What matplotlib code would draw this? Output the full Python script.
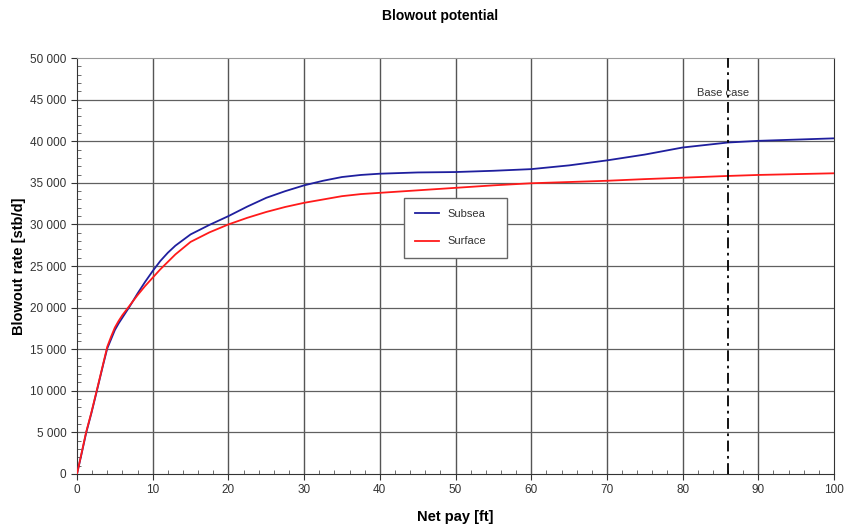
import numpy as np
import matplotlib
matplotlib.use("Agg")
import matplotlib.pyplot as plt
from matplotlib.ticker import MultipleLocator, FuncFormatter

plt.rcParams['font.family'] = ['Liberation Sans', 'DejaVu Sans']

# ========= data =========
net_pay = [0, 0.6, 1.2, 1.9, 2.6, 3.5, 4, 4.5, 5, 5.5, 6, 6.5, 7, 8, 9, 10,
           11, 12, 13, 15, 17.5, 20, 22.5, 25, 27.5, 30, 32.5, 35, 37.5, 40,
           45, 50, 55, 60, 65, 70, 75, 80, 86, 90, 100]
subsea = [0, 2400, 4900, 7300, 9900, 13300, 15100, 16200, 17300, 18100,
          18800, 19500, 20200, 21700, 23100, 24400, 25600, 26600, 27450,
          28800, 29950, 31000, 32150, 33200, 34000, 34700, 35250, 35700,
          35950, 36100, 36250, 36300, 36450, 36650, 37100, 37700, 38400,
          39250, 39850, 40050, 40350]
surface = [0, 2500, 5000, 7400, 10000, 13400, 15300, 16500, 17600, 18400,
           19100, 19700, 20300, 21500, 22600, 23600, 24600, 25500, 26400,
           27900, 29050, 30000, 30800, 31500, 32100, 32600, 33000, 33400,
           33650, 33800, 34100, 34400, 34700, 34950, 35100, 35250, 35450,
           35620, 35830, 35950, 36150]
base_case = 86
x_ticks = list(range(0, 101, 10))
y_ticks = list(range(0, 50001, 5000))

fig = plt.figure(figsize=(8.47, 5.28), dpi=100)
ax = fig.add_axes([0.0909, 0.1023, 0.8938, 0.7877])

# grid
for xv in x_ticks[1:-1]:
    ax.axvline(xv, color="#555555", lw=1.0, zorder=1)
for yv in y_ticks[1:-1]:
    ax.axhline(yv, color="#606060", lw=0.9, zorder=1)

ax.plot(net_pay, subsea, color="#1f1f9e", lw=1.3, label="Subsea", zorder=3)
ax.plot(net_pay, surface, color="#ff1a1a", lw=1.3, label="Surface", zorder=3)

# base case marker
ax.axvline(base_case, color="black", lw=1.3, linestyle=(0, (6, 2.5, 1.5, 2.5)), zorder=4)
ax.text(base_case - 0.7, 45800, "Base case", ha="center", va="center",
        fontsize=8, color="#333333", zorder=2)

ax.set_xlim(0, 100)
ax.set_ylim(0, 50000)
ax.set_xticks(x_ticks)
ax.set_yticks(y_ticks)
ax.xaxis.set_minor_locator(MultipleLocator(2))
ax.yaxis.set_minor_locator(MultipleLocator(1000))
ax.yaxis.set_major_formatter(FuncFormatter(lambda v, p: f"{int(v):,}".replace(",", " ")))
ax.tick_params(which="major", direction="out", length=4, labelsize=8.5,
               labelcolor="#333333", color="#333333")
ax.tick_params(which="minor", direction="in", length=3, color="#555555")

for s in ["left", "bottom", "right"]:
    ax.spines[s].set_color("#333333")
ax.spines["top"].set_color("#999999")

ax.set_xlabel("Net pay [ft]", fontsize=10.5, fontweight="bold", labelpad=10)
ax.set_ylabel("Blowout rate [stb/d]", fontsize=10.5, fontweight="bold", labelpad=3)
fig.text(0.52, 0.97, "Blowout potential", ha="center", va="center",
         fontsize=10, fontweight="bold")

leg = ax.legend(loc="lower left", bbox_to_anchor=(0.424, 0.507, 0.152, 0.144),
                mode="expand", fontsize=8, frameon=True, fancybox=False,
                handlelength=2.2, labelspacing=1.6, borderpad=1.0)
leg.get_frame().set_edgecolor("#666666")
leg.get_frame().set_linewidth(1.0)
leg.get_frame().set_alpha(1)
for t in leg.get_texts():
    t.set_color("#333333")

fig.savefig("out.png", dpi=100)
